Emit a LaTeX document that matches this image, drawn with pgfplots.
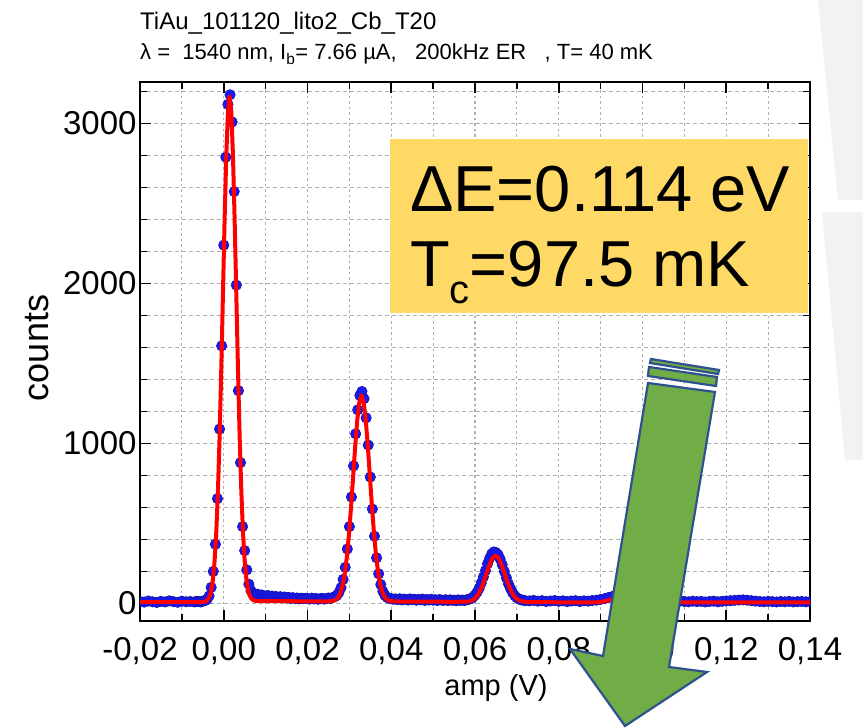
\documentclass[border=0pt]{standalone}
\usepackage{fontspec}
\setmainfont{Liberation Sans}
\usepackage{pgfplots}
\pgfplotsset{compat=1.18}
\definecolor{fitred}{RGB}{255,0,0}
\definecolor{dotblue}{RGB}{25,25,245}
\definecolor{dotedge}{RGB}{20,20,170}
\definecolor{boxyellow}{RGB}{255,217,102}
\definecolor{arrowgreen}{RGB}{112,173,71}
\definecolor{arrowedge}{RGB}{47,82,143}
\definecolor{gridgray}{RGB}{175,175,175}

% measured spectrum (counts per amplitude bin)
\pgfplotstableread{
x y
-0.020 12
-0.019 8
-0.018 15
-0.017 10
-0.016 6
-0.015 13
-0.014 9
-0.013 16
-0.012 11
-0.011 7
-0.010 14
-0.009 10
-0.008 12
-0.007 9
-0.0065 13
-0.0060 12
-0.0055 9
-0.0050 14
-0.0045 17
-0.0040 25
-0.0035 46
-0.0030 100
-0.0025 200
-0.0020 370
-0.0015 655
-0.0010 1090
-0.0005 1610
0.0000 2240
0.0005 2790
0.0010 3120
0.0015 3180
0.0020 3010
0.0025 2575
0.0030 1990
0.0035 1330
0.0040 880
0.0045 480
0.0050 330
0.0055 210
0.0060 120
0.0065 80
0.0070 62
0.0075 55
0.0080 58
0.0085 50
0.0090 53
0.0095 48
0.0100 44
0.0105 50
0.0110 41
0.0115 46
0.0120 39
0.0125 43
0.0130 37
0.0135 42
0.0140 35
0.0145 40
0.0150 33
0.0155 38
0.0160 31
0.0165 36
0.0170 30
0.0175 34
0.0180 28
0.0185 33
0.0190 29
0.0195 32
0.0200 30
0.0205 27
0.0210 33
0.0215 28
0.0220 31
0.0225 26
0.0230 29
0.0235 32
0.0240 27
0.0245 30
0.0250 34
0.0255 31
0.0260 36
0.0265 42
0.0270 50
0.0275 68
0.0280 98
0.0285 150
0.0290 225
0.0295 340
0.0300 480
0.0305 665
0.0310 860
0.0315 1060
0.0320 1210
0.0325 1300
0.0330 1325
0.0335 1280
0.0340 1160
0.0345 990
0.0350 790
0.0355 590
0.0360 420
0.0365 285
0.0370 185
0.0375 118
0.0380 75
0.0385 50
0.0390 38
0.0395 32
0.0400 30
0.0405 26
0.0410 28
0.0415 24
0.0420 29
0.0425 22
0.0430 27
0.0435 25
0.0440 21
0.0445 28
0.0450 23
0.0455 26
0.0460 20
0.0465 25
0.0470 22
0.0475 27
0.0480 19
0.0485 24
0.0490 21
0.0495 26
0.0500 20
0.0505 23
0.0510 18
0.0515 24
0.0520 21
0.0525 19
0.0530 23
0.0535 18
0.0540 22
0.0545 20
0.0550 20
0.0555 17
0.0560 22
0.0565 19
0.0570 21
0.0575 18
0.0580 23
0.0585 25
0.0590 30
0.0595 38
0.0600 52
0.0605 70
0.0610 95
0.0615 128
0.0620 165
0.0625 205
0.0630 248
0.0635 282
0.0640 310
0.0645 322
0.0650 318
0.0655 305
0.0660 278
0.0665 242
0.0670 200
0.0675 160
0.0680 122
0.0685 92
0.0690 66
0.0695 48
0.0700 35
0.0705 28
0.0710 22
0.0715 20
0.0720 17
0.073 16
0.074 19
0.075 14
0.076 17
0.077 12
0.078 15
0.079 18
0.080 13
0.081 16
0.082 11
0.083 15
0.084 17
0.085 12
0.086 16
0.087 14
0.088 18
0.089 20
0.090 25
0.091 30
0.092 38
0.093 45
0.094 52
0.095 55
0.096 54
0.097 48
0.098 40
0.099 32
0.100 26
0.101 21
0.102 17
0.103 15
0.104 13
0.105 16
0.106 12
0.107 14
0.108 11
0.109 15
0.110 12
0.111 10
0.112 14
0.113 11
0.114 13
0.115 9
0.116 12
0.117 14
0.118 10
0.119 13
0.120 15
0.121 17
0.122 19
0.123 21
0.124 22
0.125 20
0.126 17
0.127 14
0.128 12
0.129 10
0.130 13
0.131 11
0.132 9
0.133 12
0.134 10
0.135 13
0.136 9
0.137 11
0.138 12
0.139 10
0.140 11
}\spectrum

% multi-gaussian fit
\pgfplotstableread{
x y
-0.0200 8
-0.0050 8
-0.0046 11
-0.0042 15
-0.0038 24
-0.0034 43
-0.0030 80
-0.0026 147
-0.0022 259
-0.0018 436
-0.0014 692
-0.0010 1034
-0.0006 1455
-0.0002 1925
0.0002 2393
0.0006 2797
0.0010 3071
0.0014 3170
0.0018 3077
0.0022 2803
0.0026 2399
0.0030 1931
0.0034 1461
0.0038 1040
0.0042 698
0.0046 442
0.0050 265
0.0054 153
0.0058 86
0.0062 49
0.0066 30
0.0070 21
0.0074 17
0.0080 14
0.0250 13
0.0259 15
0.0264 19
0.0269 26
0.0274 41
0.0279 69
0.0284 115
0.0289 187
0.0294 291
0.0299 431
0.0304 603
0.0309 794
0.0314 986
0.0319 1150
0.0324 1262
0.0329 1302
0.0334 1262
0.0339 1150
0.0344 986
0.0349 794
0.0354 603
0.0359 431
0.0364 291
0.0369 187
0.0374 115
0.0379 69
0.0384 41
0.0389 26
0.0394 19
0.0399 15
0.0410 12
0.0550 10
0.0583 11
0.05885 15
0.0594 21
0.05995 31
0.0605 47
0.06105 71
0.0616 102
0.06215 141
0.0627 184
0.06325 227
0.0638 264
0.06435 289
0.0649 298
0.06545 289
0.0660 264
0.06655 227
0.0671 184
0.06765 141
0.0682 102
0.06875 71
0.0693 47
0.06985 31
0.0704 21
0.07095 15
0.0715 11
0.0730 8
0.0880 6
0.0893 8
0.0905 11
0.0918 19
0.0930 30
0.0943 41
0.0955 46
0.0968 41
0.0980 30
0.0993 19
0.1005 11
0.1018 8
0.1040 6
0.1400 6
}\fitcurve

\begin{document}
\begin{tikzpicture}[x=1pt,y=1pt]
\fill[white] (0,0) rectangle (863,728);
\useasboundingbox (0,0) rectangle (863,728);
% faint slide decoration at the right margin
\fill[black!5] (818,728) -- (863,728) -- (863,528) -- (838,528) -- cycle;
\fill[black!5] (822,516) -- (863,516) -- (863,268) -- (845,268) -- cycle;

\begin{axis}[
  at={(140pt,107pt)}, anchor=south west,
  scale only axis, width=670pt, height=539pt,
  xmin=-0.02, xmax=0.14, ymin=-110, ymax=3260,
  clip marker paths=true,
  xtick={-0.02,0,0.02,0.04,0.06,0.08,0.10,0.12,0.14},
  xticklabels={{-0,02},{0,00},{0,02},{0,04},{0,06},{0,08},{0,10},{0,12},{0,14}},
  minor xtick={-0.01,0.01,0.03,0.05,0.07,0.09,0.11,0.13},
  ytick={0,1000,2000,3000},
  yticklabels={0,1000,2000,3000},
  minor ytick={200,400,600,800,1200,1400,1600,1800,2200,2400,2600,2800,3200},
  tick align=inside,
  major tick length=11pt, minor tick length=7pt,
  tick style={black, line width=1.6pt},
  axis line style={black, line width=2pt},
  grid=both,
  major x grid style={gridgray, line width=1.2pt, dash pattern=on 2.5pt off 3pt},
  minor x grid style={gridgray, line width=1.2pt, dash pattern=on 2.5pt off 3pt},
  major y grid style={gridgray, line width=1.2pt, dash pattern=on 4pt off 3pt},
  minor y grid style={gridgray, line width=1.2pt, dash pattern=on 4pt off 3pt},
  ticklabel style={font=\fontsize{33}{33}\selectfont},
  xticklabel style={yshift=-13pt},
]
\addplot[only marks, mark=*, mark size=5.2pt,
  mark options={fill=dotblue, draw=dotedge, line width=0.6pt}] table {\spectrum};
\addplot[fitred, line width=4pt, line join=round] table {\fitcurve};
\end{axis}

% titles
\node[anchor=base west, inner sep=0] at (140,698)
  {\fontsize{24}{24}\selectfont TiAu\_101120\_lito2\_Cb\_T20};
\node[anchor=base west, inner sep=0] at (140,668)
  {\fontsize{22}{22}\selectfont λ =\ \ 1540 nm, I\textsubscript{b}= 7.66 µA,\ \ \ 200kHz ER\ \ \ , T= 40 mK};

% axis labels
\node[rotate=90, inner sep=0] at (37,380) {\fontsize{36}{36}\selectfont counts};
\node[inner sep=0] at (496,40) {\fontsize{29}{29}\selectfont amp (V)};

% result box
\fill[boxyellow] (390,415) rectangle (808,589);
\node[anchor=base west, inner sep=0] at (410,516)
  {\fontsize{65}{65}\selectfont ΔE=0.114 eV};
\node[anchor=base west, inner sep=0] at (410,441)
  {\fontsize{65}{65}\selectfont T\raisebox{-17pt}{\fontsize{40}{40}\selectfont c}=97.5 mK};

% block arrow
\begin{scope}[fill=arrowgreen, draw=arrowedge, line width=2.2pt, line join=miter]
\filldraw (648,345) -- (715,336) -- (669,61) -- (707,56) -- (625,2) -- (570,79) -- (603,72) -- cycle;
\filldraw (649,361) -- (717,351) -- (716,342) -- (648,352) -- cycle;
\filldraw (651,369) -- (719,358) -- (718,354) -- (650,365) -- cycle;
\end{scope}
\end{tikzpicture}
\end{document}
